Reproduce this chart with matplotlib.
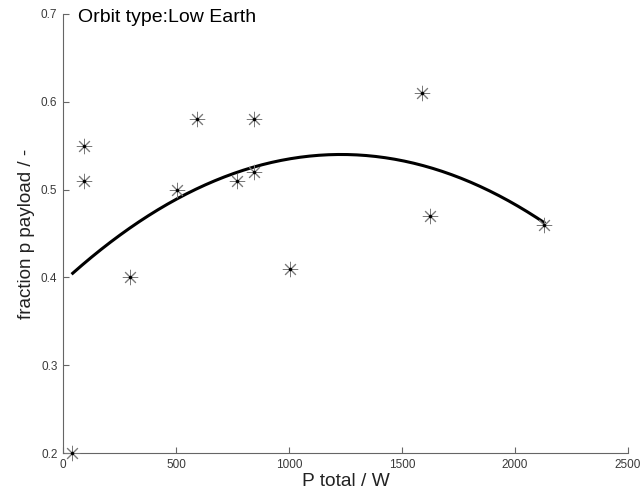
import numpy as np
import matplotlib
matplotlib.use("Agg")
import matplotlib.pyplot as plt

plt.rcParams['font.family'] = ['Liberation Sans', 'DejaVu Sans']

# Power total (W) and payload power fraction for Low Earth orbit spacecraft
p_total = [40, 94, 94, 296, 503, 592, 768, 847, 847, 1004, 1587, 1624, 2128]
frac_payload = [0.20, 0.55, 0.51, 0.40, 0.50, 0.58, 0.51, 0.58, 0.52, 0.41, 0.61, 0.47, 0.46]

# Quadratic trend: vertex (x, y) and curvature
trend_vertex = (1230, 0.540)
trend_curv = -9.6e-8
trend_range = (43, 2128)

x_ticks = [0, 500, 1000, 1500, 2000, 2500]
y_ticks = [0.2, 0.3, 0.4, 0.5, 0.6, 0.7]

fig = plt.figure(figsize=(6.44, 4.94), dpi=100)
ax = fig.add_axes([63/644, 1-453/494, (628-63)/644, (453-14)/494])

xs = np.linspace(*trend_range, 200)
ys = trend_vertex[1] + trend_curv * (xs - trend_vertex[0])**2
ax.plot(xs, ys, color='black', lw=2.2, zorder=2)

ax.plot(p_total, frac_payload, linestyle='none', marker=(8, 2, 0), markersize=11,
        markeredgewidth=0.7, markeredgecolor='#7a7a7a', zorder=3, clip_on=False)
ax.plot(p_total, frac_payload, linestyle='none', marker='o', markersize=1.5,
        color='black', zorder=4, clip_on=False)

ax.set_xlim(0, 2500)
ax.set_ylim(0.2, 0.7)
ax.set_xticks(x_ticks)
ax.set_yticks(y_ticks)
ax.set_xticklabels([str(v) for v in x_ticks])
ax.set_yticklabels([f"{v:.1f}" for v in y_ticks])

for s in ('top', 'right'):
    ax.spines[s].set_visible(False)
for s in ('left', 'bottom'):
    ax.spines[s].set_color('#666666')
    ax.spines[s].set_linewidth(0.8)
ax.tick_params(direction='in', length=4, width=0.8, color='#666666',
               labelsize=8.5, labelcolor='#3a3a3a', pad=4)

ax.set_xlabel('P total / W', fontsize=13.8, color='#222222', labelpad=2)
ax.set_ylabel('fraction p payload / -', fontsize=13.6, color='#222222', labelpad=4)
ax.text(0.027, 0.991, 'Orbit type:Low Earth', transform=ax.transAxes,
        fontsize=14, va='center', ha='left', color='black')

fig.savefig('out.png', dpi=100)
